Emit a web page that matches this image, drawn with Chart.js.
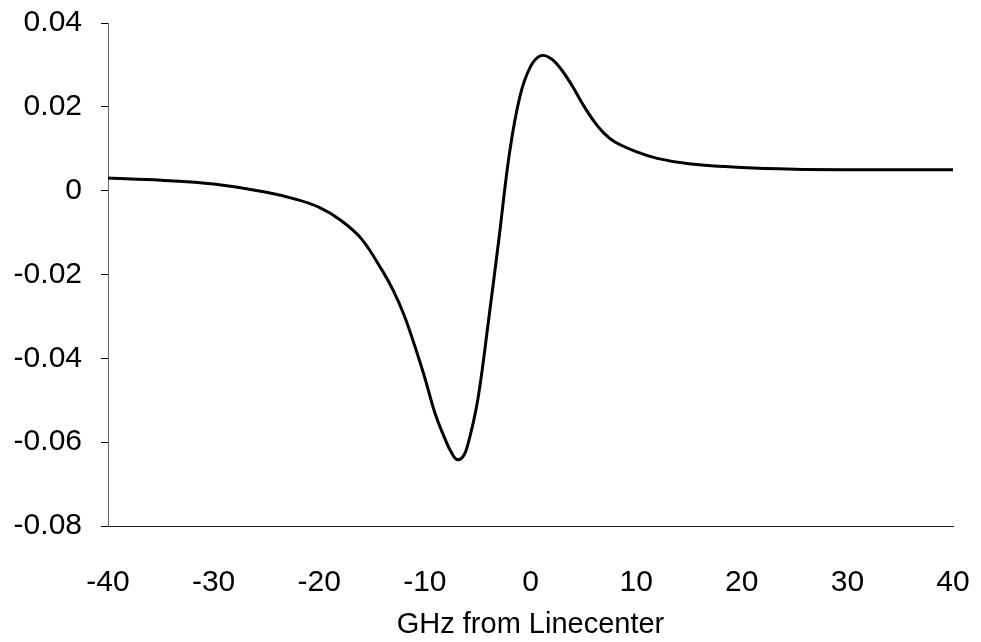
<!DOCTYPE html>
<html>
<head>
<meta charset="utf-8">
<script src="https://cdn.jsdelivr.net/npm/chart.js@4/dist/chart.umd.min.js"></script>
<style>
  html, body { margin: 0; padding: 0; background: #fff; }
  #wrap { width: 981px; height: 642px; }
</style>
</head>
<body>
<div id="wrap"><canvas id="chart" width="981" height="642"></canvas></div>
<script>
// GHz from linecenter
const detuning = [-40, -35, -30, -25, -22, -20, -18, -16, -14, -13, -12, -11, -10, -9, -8, -7.5, -7, -6.5, -6, -5, -4, -3, -2, -1, 0, 1, 2, 3, 4, 5, 6, 7, 8, 10, 12, 15, 20, 25, 30, 40];
// signal
const signal = [0.0030, 0.0025, 0.0016, -0.0004, -0.0022, -0.0040, -0.0070, -0.0115, -0.0192, -0.0238, -0.0295, -0.0367, -0.0447, -0.0534, -0.0598, -0.0624, -0.0641, -0.0638, -0.0612, -0.0500, -0.0315, -0.0117, 0.0088, 0.0225, 0.0296, 0.0322, 0.0314, 0.0286, 0.0248, 0.0204, 0.0166, 0.0136, 0.0116, 0.0093, 0.0077, 0.0064, 0.0055, 0.0051, 0.0050, 0.0050];

const xTicks = [-40, -30, -20, -10, 0, 10, 20, 30, 40];
const yTicks = [-0.08, -0.06, -0.04, -0.02, 0, 0.02, 0.04];

const font = { family: "'Liberation Sans', Arial, sans-serif", size: 30 };

const points = detuning.map((x, i) => ({ x, y: signal[i] }));

new Chart(document.getElementById("chart"), {
    type: "scatter",
    data: {
        datasets: [
            {
                data: points,
                showLine: true,
                borderColor: "#000",
                borderWidth: 3,
                pointRadius: 0,
                tension: 0.35
            }
        ]
    },
    options: {
        responsive: false,
        animation: false,
        layout: { padding: { top: 23, right: 28, left: 0, bottom: 0 } },
        plugins: {
            legend: { display: false },
            tooltip: { enabled: false }
        },
        scales: {
            x: {
                type: "linear",
                min: xTicks[0],
                max: xTicks[xTicks.length - 1],
                afterBuildTicks: (scale) => {
                    scale.ticks = xTicks.map(v => ({ value: v }));
                },
                afterFit: (scale) => {
                    scale.height = 116;
                    scale.paddingLeft = 0;
                    scale.paddingRight = 0;
                },
                grid: { display: true, drawOnChartArea: false, drawTicks: false },
                border: { display: true, color: "#222", width: 1, dash: [26, 4] },
                ticks: {
                    color: "#000",
                    font,
                    padding: 39,
                    maxRotation: 0,
                    callback: (v) => String(v)
                },
                title: {
                    display: true,
                    text: "GHz from Linecenter",
                    color: "#000",
                    font: { family: font.family, size: 29 },
                    padding: { top: 0, bottom: 0 }
                }
            },
            y: {
                type: "linear",
                min: yTicks[0],
                max: yTicks[yTicks.length - 1],
                afterBuildTicks: (scale) => {
                    scale.ticks = yTicks.map(v => ({ value: v }));
                },
                afterFit: (scale) => {
                    scale.width = 108;
                    scale.paddingTop = 0;
                    scale.paddingBottom = 0;
                },
                grid: { display: true, drawOnChartArea: false, drawTicks: true, tickLength: 7, color: "#000" },
                border: { display: true, color: "#666", width: 1, dash: [2, 6] },
                ticks: {
                    color: "#000",
                    font,
                    padding: 19,
                    callback: (v) => String(Number(v.toFixed(2)))
                }
            }
        }
    }
});
</script>
</body>
</html>
